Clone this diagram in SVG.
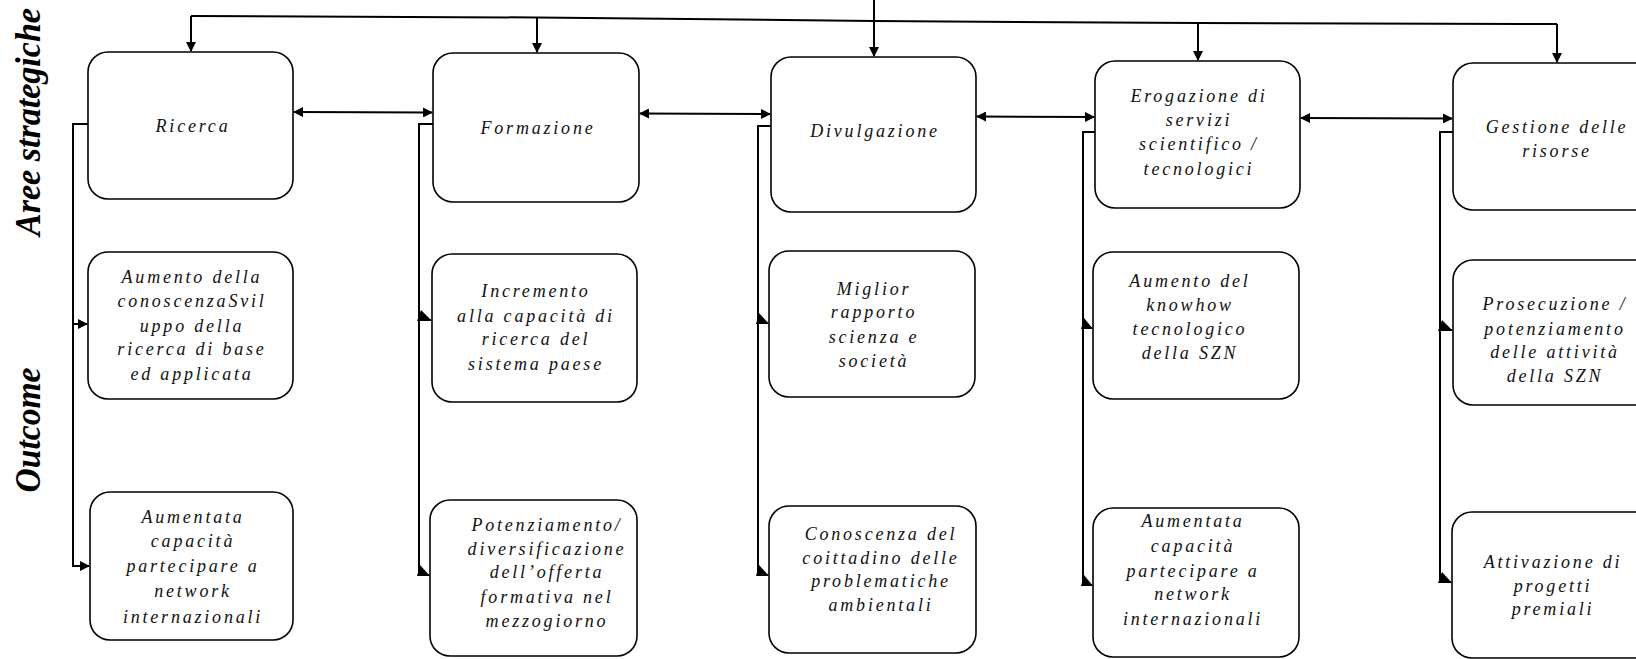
<svg xmlns="http://www.w3.org/2000/svg" width="1636" height="659" viewBox="0 0 1636 659">
<style>
.box{fill:#fff;stroke:#000;stroke-width:1.6}
.t{font-family:"Liberation Serif",serif;font-style:italic;font-size:18px;letter-spacing:2.8px;text-anchor:middle;fill:#111}
.lbl{font-family:"Liberation Serif",serif;font-style:italic;font-weight:bold;font-size:35px;text-anchor:middle;fill:#000}
.ln{fill:none;stroke:#000;stroke-width:2}
.ah{fill:#000}
</style>
<defs>
<marker id="arr" viewBox="0 0 10 10" refX="9" refY="5" markerWidth="10" markerHeight="10" markerUnits="userSpaceOnUse" orient="auto-start-reverse"><path d="M0,0 L10,5 L0,10 Z" fill="#000"/></marker>
</defs>
<rect width="1636" height="659" fill="#fff"/>
<g id="labels">
<text class="lbl" transform="translate(40,122) rotate(-90)" textLength="228" lengthAdjust="spacingAndGlyphs">Aree strategiche</text>
<text class="lbl" transform="translate(40,430) rotate(-90)" textLength="125" lengthAdjust="spacingAndGlyphs">Outcome</text>
</g>
<g id="connectors">
<polyline class="ln" points="191,16 537,17.5 874,21 1198,23 1557,24"/>
<line class="ln" x1="874" y1="0" x2="874" y2="21"/>
<line class="ln" x1="191" y1="16" x2="191" y2="51" marker-end="url(#arr)"/>
<line class="ln" x1="537" y1="17.5" x2="537" y2="52" marker-end="url(#arr)"/>
<line class="ln" x1="874" y1="21" x2="874" y2="56" marker-end="url(#arr)"/>
<line class="ln" x1="1198" y1="23" x2="1198" y2="60" marker-end="url(#arr)"/>
<line class="ln" x1="1557" y1="24" x2="1557" y2="62" marker-end="url(#arr)"/>
<line class="ln" x1="294" y1="112" x2="432" y2="112.5" marker-start="url(#arr)" marker-end="url(#arr)"/>
<line class="ln" x1="640" y1="113.5" x2="770" y2="114" marker-start="url(#arr)" marker-end="url(#arr)"/>
<line class="ln" x1="977" y1="116.5" x2="1094" y2="117" marker-start="url(#arr)" marker-end="url(#arr)"/>
<line class="ln" x1="1301" y1="118" x2="1452" y2="118.5" marker-start="url(#arr)" marker-end="url(#arr)"/>
<polyline class="ln" points="88,124 73,124 73,566 89,566" marker-end="url(#arr)"/>
<line class="ln" x1="73" y1="324" x2="87" y2="324" marker-end="url(#arr)"/>
<polyline class="ln" points="433,124 419,124 419,575 429,575"/>
<line class="ln" x1="419" y1="320" x2="431" y2="320"/>
<polyline class="ln" points="771,126 758,126 758,575 768,575"/>
<line class="ln" x1="758" y1="323" x2="768" y2="323"/>
<polyline class="ln" points="1095,132 1083,132 1083,585 1092,585"/>
<line class="ln" x1="1083" y1="328" x2="1092" y2="328"/>
<polyline class="ln" points="1453,132 1440,132 1440,582 1451,582"/>
<line class="ln" x1="1440" y1="330" x2="1452" y2="330"/>
<polygon class="ah" points="417,321 432,321 421,310"/>
<polygon class="ah" points="417,576 430,576 420,565"/>
<polygon class="ah" points="756,324 769,324 759,313"/>
<polygon class="ah" points="756,576 769,576 759,565"/>
<polygon class="ah" points="1081,329 1093,329 1084,318"/>
<polygon class="ah" points="1081,586 1093,586 1084,575"/>
<polygon class="ah" points="1438,331 1453,331 1442,320"/>
<polygon class="ah" points="1438,583 1452,583 1442,572"/>
</g>
<g id="n-ricerca"><rect class="box" x="88" y="52" width="205" height="147" rx="20"/><text class="t" x="193" y="132">Ricerca</text></g>
<g id="n-formazione"><rect class="box" x="433" y="53" width="206" height="149" rx="20"/><text class="t" x="538" y="134">Formazione</text></g>
<g id="n-divulgazione"><rect class="box" x="771" y="57" width="205" height="155" rx="20"/><text class="t" x="875" y="137">Divulgazione</text></g>
<g id="n-erogazione"><rect class="box" x="1095" y="61" width="205" height="147" rx="20"/><text class="t"><tspan x="1199" y="102">Erogazione di</tspan><tspan x="1199" y="126">servizi</tspan><tspan x="1199" y="150">scientifico /</tspan><tspan x="1199" y="175">tecnologici</tspan></text></g>
<g id="n-gestione"><rect class="box" x="1453" y="63" width="206" height="147" rx="20"/><text class="t"><tspan x="1557" y="133">Gestione delle</tspan><tspan x="1557" y="157">risorse</tspan></text></g>
<g id="o-aumento-conoscenza"><rect class="box" x="88" y="252" width="205" height="147" rx="20"/><text class="t"><tspan x="192" y="283">Aumento della</tspan><tspan x="192" y="307">conoscenzaSvil</tspan><tspan x="192" y="332">uppo  della</tspan><tspan x="192" y="355">ricerca di base</tspan><tspan x="192" y="380">ed applicata</tspan></text></g>
<g id="o-incremento"><rect class="box" x="432" y="254" width="205" height="148" rx="20"/><text class="t"><tspan x="536" y="297">Incremento</tspan><tspan x="536" y="322">alla capacità di</tspan><tspan x="536" y="345">ricerca del</tspan><tspan x="536" y="370">sistema paese</tspan></text></g>
<g id="o-miglior"><rect class="box" x="769" y="251" width="206" height="146" rx="20"/><text class="t"><tspan x="874" y="295">Miglior</tspan><tspan x="874" y="318">rapporto</tspan><tspan x="874" y="343">scienza e</tspan><tspan x="874" y="367">società</tspan></text></g>
<g id="o-knowhow"><rect class="box" x="1093" y="252" width="206" height="147" rx="20"/><text class="t"><tspan x="1190" y="287">Aumento del</tspan><tspan x="1190" y="311">knowhow</tspan><tspan x="1190" y="335">tecnologico</tspan><tspan x="1190" y="359">della SZN</tspan></text></g>
<g id="o-prosecuzione"><rect class="box" x="1453" y="260" width="206" height="145" rx="20"/><text class="t"><tspan x="1555" y="310">Prosecuzione /</tspan><tspan x="1555" y="335">potenziamento</tspan><tspan x="1555" y="358">delle attività</tspan><tspan x="1555" y="382">della SZN</tspan></text></g>
<g id="o-aumentata-1"><rect class="box" x="90" y="492" width="203" height="148" rx="20"/><text class="t"><tspan x="193" y="523">Aumentata</tspan><tspan x="193" y="547">capacità</tspan><tspan x="193" y="572">partecipare a</tspan><tspan x="193" y="597">network</tspan><tspan x="193" y="623">internazionali</tspan></text></g>
<g id="o-potenziamento"><rect class="box" x="430" y="500" width="207" height="156" rx="20"/><text class="t"><tspan x="547" y="531">Potenziamento/</tspan><tspan x="547" y="555">diversificazione</tspan><tspan x="547" y="578">dell’offerta</tspan><tspan x="547" y="603">formativa nel</tspan><tspan x="547" y="627">mezzogiorno</tspan></text></g>
<g id="o-conoscenza"><rect class="box" x="769" y="506" width="207" height="147" rx="20"/><text class="t"><tspan x="881" y="540">Conoscenza del</tspan><tspan x="881" y="564">coittadino delle</tspan><tspan x="881" y="587">problematiche</tspan><tspan x="881" y="611">ambientali</tspan></text></g>
<g id="o-aumentata-2"><rect class="box" x="1093" y="508" width="206" height="149" rx="20"/><text class="t"><tspan x="1193" y="527">Aumentata</tspan><tspan x="1193" y="552">capacità</tspan><tspan x="1193" y="577">partecipare a</tspan><tspan x="1193" y="600">network</tspan><tspan x="1193" y="625">internazionali</tspan></text></g>
<g id="o-attivazione"><rect class="box" x="1452" y="512" width="207" height="146" rx="20"/><text class="t"><tspan x="1553" y="568">Attivazione di</tspan><tspan x="1553" y="592">progetti</tspan><tspan x="1553" y="615">premiali</tspan></text></g>
</svg>
